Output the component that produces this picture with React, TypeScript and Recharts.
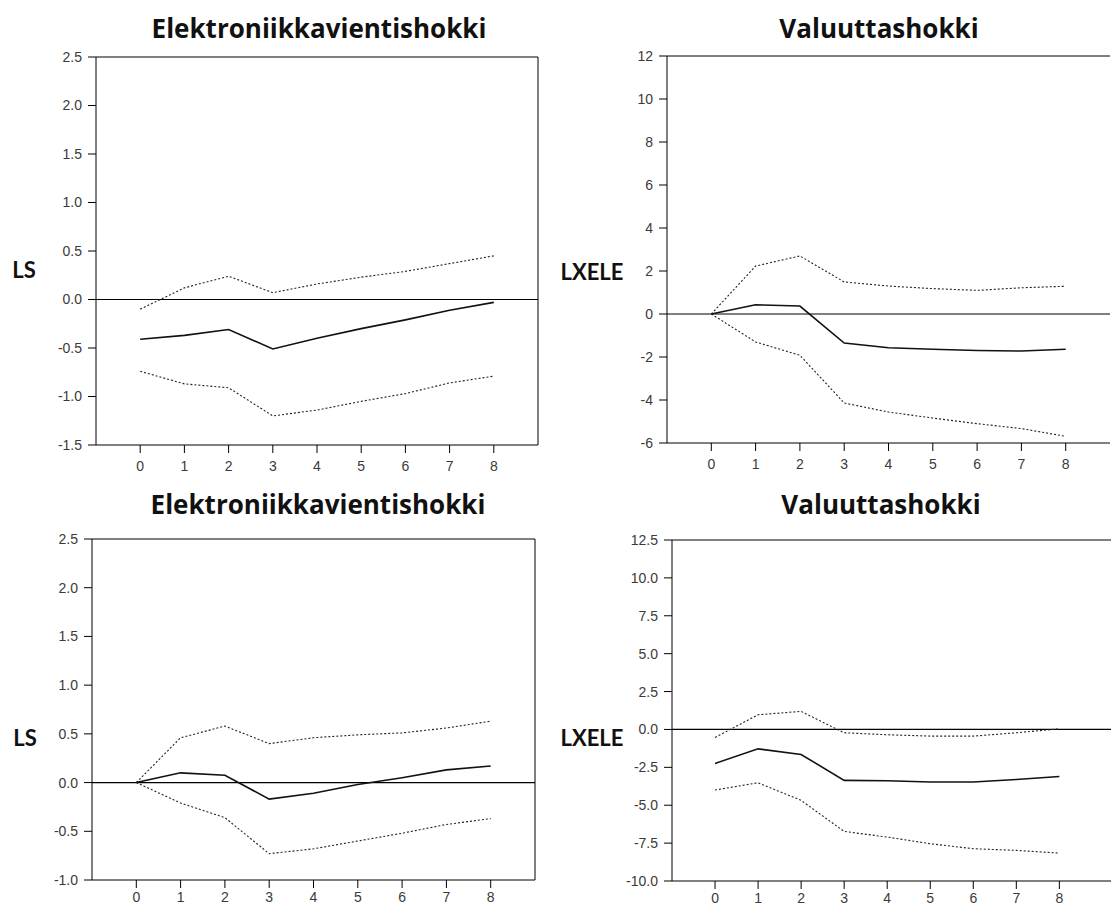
import { LineChart, Line, XAxis, YAxis, ReferenceLine } from 'recharts'

// horizon (quarters after the shock)
const periods = [0, 1, 2, 3, 4, 5, 6, 7, 8]

// LS response to the electronics export shock (top left)
const lsElekTopMid = [-0.41, -0.37, -0.31, -0.51, -0.4, -0.3, -0.21, -0.11, -0.03]
const lsElekTopUpper = [-0.1, 0.12, 0.24, 0.07, 0.16, 0.23, 0.29, 0.37, 0.45]
const lsElekTopLower = [-0.74, -0.87, -0.91, -1.2, -1.14, -1.05, -0.97, -0.86, -0.79]

// LXELE response to the currency shock (top right)
const lxeleValTopMid = [0, 0.43, 0.37, -1.35, -1.57, -1.64, -1.7, -1.72, -1.64]
const lxeleValTopUpper = [0, 2.23, 2.7, 1.49, 1.3, 1.18, 1.1, 1.22, 1.29]
const lxeleValTopLower = [0, -1.3, -1.92, -4.14, -4.56, -4.84, -5.1, -5.33, -5.69]

// LS response to the electronics export shock (bottom left)
const lsElekBotMid = [0, 0.1, 0.075, -0.17, -0.11, -0.02, 0.05, 0.13, 0.17]
const lsElekBotUpper = [0, 0.46, 0.58, 0.4, 0.46, 0.49, 0.51, 0.56, 0.63]
const lsElekBotLower = [0, -0.21, -0.36, -0.73, -0.68, -0.6, -0.52, -0.43, -0.37]

// LXELE response to the currency shock (bottom right)
const lxeleValBotMid = [-2.24, -1.28, -1.65, -3.36, -3.39, -3.47, -3.47, -3.3, -3.1]
const lxeleValBotUpper = [-0.53, 0.97, 1.19, -0.22, -0.35, -0.44, -0.44, -0.22, 0.04]
const lxeleValBotLower = [-4.0, -3.52, -4.68, -6.73, -7.1, -7.54, -7.87, -7.98, -8.16]

// tick labels
const lsTopTicks = [-1.5, -1.0, -0.5, 0.0, 0.5, 1.0, 1.5, 2.0, 2.5]
const lxeleTopTicks = [-6, -4, -2, 0, 2, 4, 6, 8, 10, 12]
const lsBotTicks = [-1.0, -0.5, 0.0, 0.5, 1.0, 1.5, 2.0, 2.5]
const lxeleBotTicks = [-10.0, -7.5, -5.0, -2.5, 0.0, 2.5, 5.0, 7.5, 10.0, 12.5]

const titleElek = 'Elektroniikkavientishokki'
const titleVal = 'Valuuttashokki'

const tickFont = { fontSize: 14, fill: '#3a3a3a', fontFamily: 'Liberation Sans, Arial, sans-serif' }
const textBase: React.CSSProperties = {
  position: 'absolute',
  fontWeight: 700,
  color: '#111',
  whiteSpace: 'nowrap',
  transform: 'translate(-50%, -50%)',
  lineHeight: 1,
}
const titleFont: React.CSSProperties = { ...textBase, fontFamily: '"Open Sans", sans-serif', fontSize: 26 }
const axisLabelFont: React.CSSProperties = { ...textBase, fontFamily: 'Lato, sans-serif', fontSize: 22 }

interface PanelProps {
  left: number
  top: number
  width: number
  height: number
  margin: { top: number; right: number; left: number; bottom: number }
  xHeight: number
  xTickMargin: number
  mid: number[]
  upper: number[]
  lower: number[]
  yTicks: number[]
  xMax: number
  decimals: number
  rightBorder: boolean
}

function Panel(p: PanelProps) {
  const data = periods.map((t, i) => ({
    period: t,
    mid: p.mid[i],
    upper: p.upper[i],
    lower: p.lower[i],
  }))
  const yMin = p.yTicks[0]
  const yMax = p.yTicks[p.yTicks.length - 1]

  return (
    <div style={{ position: 'absolute', left: p.left, top: p.top }}>
      <LineChart width={p.width} height={p.height} data={data} margin={p.margin}>
        <XAxis
          dataKey="period"
          type="number"
          domain={[-1, p.xMax]}
          ticks={periods}
          allowDataOverflow
          tick={tickFont}
          tickSize={8}
          tickMargin={p.xTickMargin}
          height={p.xHeight}
          axisLine={{ stroke: '#000' }}
          tickLine={{ stroke: '#000' }}
        />
        <YAxis
          type="number"
          domain={[yMin, yMax]}
          ticks={p.yTicks}
          interval={0}
          tickFormatter={(v: number) => v.toFixed(p.decimals)}
          tick={tickFont}
          tickSize={8}
          tickMargin={6}
          width={60}
          axisLine={{ stroke: '#000' }}
          tickLine={{ stroke: '#000' }}
        />
        <ReferenceLine y={yMax} stroke="#000" />
        {p.rightBorder && <ReferenceLine x={p.xMax} stroke="#000" />}
        <ReferenceLine y={0} stroke="#000" strokeWidth={1.2} />
        <Line dataKey="upper" stroke="#222" strokeWidth={1.1} strokeDasharray="2 2" dot={false} isAnimationActive={false} />
        <Line dataKey="lower" stroke="#222" strokeWidth={1.1} strokeDasharray="2 2" dot={false} isAnimationActive={false} />
        <Line dataKey="mid" stroke="#111" strokeWidth={1.6} dot={false} isAnimationActive={false} />
      </LineChart>
    </div>
  )
}

export default function App() {
  return (
    <div style={{ position: 'absolute', left: 0, top: 0, width: 1111, height: 906, background: '#fff', overflow: 'hidden' }}>
      <Panel
        left={0} top={0} width={555} height={480}
        margin={{ top: 57, right: 17, left: 36, bottom: 0 }} xHeight={35} xTickMargin={8}
        mid={lsElekTopMid} upper={lsElekTopUpper} lower={lsElekTopLower}
        yTicks={lsTopTicks} xMax={9} decimals={1} rightBorder
      />
      <Panel
        left={560} top={0} width={551} height={478}
        margin={{ top: 56, right: 1, left: 47, bottom: 0 }} xHeight={35} xTickMargin={8}
        mid={lxeleValTopMid} upper={lxeleValTopUpper} lower={lxeleValTopLower}
        yTicks={lxeleTopTicks} xMax={9} decimals={0} rightBorder={false}
      />
      <Panel
        left={0} top={480} width={555} height={426}
        margin={{ top: 59, right: 20, left: 32, bottom: 0 }} xHeight={26} xTickMargin={4}
        mid={lsElekBotMid} upper={lsElekBotUpper} lower={lsElekBotLower}
        yTicks={lsBotTicks} xMax={9} decimals={1} rightBorder
      />
      <Panel
        left={560} top={480} width={551} height={426}
        margin={{ top: 60, right: 0, left: 52, bottom: 0 }} xHeight={25} xTickMargin={4}
        mid={lxeleValBotMid} upper={lxeleValBotUpper} lower={lxeleValBotLower}
        yTicks={lxeleBotTicks} xMax={9.2} decimals={1} rightBorder={false}
      />

      <div style={{ ...titleFont, left: 319, top: 28 }}>{titleElek}</div>
      <div style={{ ...titleFont, left: 879, top: 28 }}>{titleVal}</div>
      <div style={{ ...titleFont, left: 318, top: 504 }}>{titleElek}</div>
      <div style={{ ...titleFont, left: 881, top: 504 }}>{titleVal}</div>

      <div style={{ ...axisLabelFont, left: 24, top: 270 }}>LS</div>
      <div style={{ ...axisLabelFont, left: 592, top: 272 }}>LXELE</div>
      <div style={{ ...axisLabelFont, left: 25, top: 738 }}>LS</div>
      <div style={{ ...axisLabelFont, left: 592, top: 738 }}>LXELE</div>
    </div>
  )
}
